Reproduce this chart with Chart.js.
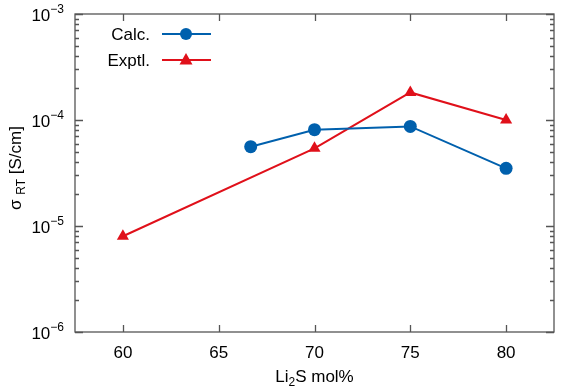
<!DOCTYPE html>
<html>
<head>
<meta charset="utf-8">
<script src="https://cdn.jsdelivr.net/npm/chart.js@4/dist/chart.umd.min.js"></script>
<style>
    html, body { margin: 0; padding: 0; background: #fff; }
    #wrap { width: 561px; height: 391px; }
</style>
</head>
<body>
<div id="wrap"><canvas id="sigma_canvas"></canvas></div>
<script>
// Li2S mol% on x, room temperature conductivity on y
const calc_x = [66.67, 70, 75, 80];
const calc_y = [5.6e-5, 8.1e-5, 8.7e-5, 3.5e-5];
const exptl_x = [60, 70, 75, 80];
const exptl_y = [8.0e-6, 5.4e-5, 1.82e-4, 1.0e-4];
const x_ticks = [60, 65, 70, 75, 80];
const y_decades = [-6, -5, -4, -3];
const series_labels = ["Calc.", "Exptl."];

const FONT = '"Liberation Sans", Arial, sans-serif';
const AXIS_COLOR = "#555555";

function to_points(xs, ys) {
    return xs.map((x, i) => ({ x: x, y: ys[i] }));
}

// gnuplot style frame: inward ticks on all four sides, custom labels
let frame_plugin = {
    id: 'frame_plugin',
    afterDraw(chart) {
        let ctx = chart.ctx;
        let area = chart.chartArea;
        let xs = chart.scales.x;
        let ys = chart.scales.y;
        ctx.save();
        ctx.strokeStyle = AXIS_COLOR;
        ctx.lineWidth = 1.3;
        ctx.strokeRect(area.left, area.top, area.right - area.left, area.bottom - area.top);

        ctx.beginPath();
        x_ticks.forEach(v => {
            let px = Math.round(xs.getPixelForValue(v)) + 0.5;
            ctx.moveTo(px, area.bottom);
            ctx.lineTo(px, area.bottom - 7);
            ctx.moveTo(px, area.top);
            ctx.lineTo(px, area.top + 7);
        });
        for (let d = y_decades[0]; d <= y_decades[y_decades.length - 1]; d++) {
            for (let m = 1; m <= 9; m++) {
                if (d === y_decades[y_decades.length - 1] && m > 1) break;
                let py = Math.round(ys.getPixelForValue(m * Math.pow(10, d))) + 0.5;
                let len = m === 1 ? 8 : 4;
                ctx.moveTo(area.left, py);
                ctx.lineTo(area.left + len, py);
                ctx.moveTo(area.right, py);
                ctx.lineTo(area.right - len, py);
            }
        }
        ctx.stroke();

        ctx.fillStyle = "#000";
        ctx.textBaseline = "alphabetic";

        // x tick labels
        ctx.font = "17px " + FONT;
        ctx.textAlign = "center";
        x_ticks.forEach(v => {
            ctx.fillText(String(v), xs.getPixelForValue(v), 358);
        });

        // y tick labels 10^n
        y_decades.forEach(d => {
            let py = ys.getPixelForValue(Math.pow(10, d));
            ctx.font = "12px " + FONT;
            let sup = "\u2212" + Math.abs(d);
            let sup_w = ctx.measureText(sup).width;
            ctx.textAlign = "right";
            ctx.fillText(sup, 64, py - 1);
            ctx.font = "17px " + FONT;
            ctx.fillText("10", 64 - sup_w, py + 7);
        });

        // x axis title: Li2S mol%
        let parts = [["Li", 17, 0], ["2", 12, 4], ["S mol%", 17, 0]];
        let total = 0;
        parts.forEach(p => { ctx.font = p[1] + "px " + FONT; total += ctx.measureText(p[0]).width; });
        let cx = (area.left + area.right) / 2 - total / 2;
        ctx.textAlign = "left";
        parts.forEach(p => {
            ctx.font = p[1] + "px " + FONT;
            ctx.fillText(p[0], cx, 382 + p[2]);
            cx += ctx.measureText(p[0]).width;
        });

        // y axis title: sigma RT [S/cm]
        ctx.save();
        ctx.translate(21, 168);
        ctx.rotate(-Math.PI / 2);
        let yparts = [["\u03c3 ", 17, 0], ["RT", 12, 4], [" [S/cm]", 17, 0]];
        total = 0;
        yparts.forEach(p => { ctx.font = p[1] + "px " + FONT; total += ctx.measureText(p[0]).width; });
        cx = -total / 2;
        yparts.forEach(p => {
            ctx.font = p[1] + "px " + FONT;
            ctx.fillText(p[0], cx, p[2]);
            cx += ctx.measureText(p[0]).width;
        });
        ctx.restore();

        // legend
        chart.data.datasets.forEach((ds, i) => {
            let ly = 34 + i * 26;
            ctx.font = "17px " + FONT;
            ctx.textAlign = "right";
            ctx.fillStyle = "#000";
            ctx.fillText(ds.label, 150, ly + 6);
            ctx.strokeStyle = ds.borderColor;
            ctx.lineWidth = 2;
            ctx.beginPath();
            ctx.moveTo(162, ly);
            ctx.lineTo(211, ly);
            ctx.stroke();
            ctx.fillStyle = ds.backgroundColor;
            ctx.beginPath();
            if (ds.pointStyle === 'circle') {
                ctx.arc(186, ly, 6, 0, Math.PI * 2);
            } else {
                ctx.moveTo(186, ly - 7);
                ctx.lineTo(192.5, ly + 4.5);
                ctx.lineTo(179.5, ly + 4.5);
                ctx.closePath();
            }
            ctx.fill();
        });
        ctx.restore();
    }
};

let data = {
    datasets: [
        {
            label: series_labels[0],
            data: to_points(calc_x, calc_y),
            borderColor: "#0060ad",
            backgroundColor: "#0060ad",
            borderWidth: 2,
            pointStyle: 'circle',
            pointRadius: 6.5,
            pointBorderWidth: 0,
            tension: 0
        },
        {
            label: series_labels[1],
            data: to_points(exptl_x, exptl_y),
            borderColor: "#e0101a",
            backgroundColor: "#e0101a",
            borderWidth: 2,
            pointStyle: 'triangle',
            pointRadius: 7,
            pointBorderWidth: 0,
            tension: 0
        }
    ]
};

let config = {
    type: 'line',
    data: data,
    options: {
        responsive: true,
        maintainAspectRatio: false,
        animation: false,
        layout: {
            padding: { left: 75, right: 3, top: 14, bottom: 59 }
        },
        plugins: {
            legend: { display: false },
            tooltip: { enabled: false },
            title: { display: false }
        },
        scales: {
            x: {
                type: 'linear',
                min: 57.5,
                max: 82.5,
                display: false
            },
            y: {
                type: 'logarithmic',
                min: 1e-6,
                max: 1e-3,
                display: false
            }
        }
    },
    plugins: [frame_plugin]
};

new Chart(document.getElementById('sigma_canvas'), config);
</script>
</body>
</html>
